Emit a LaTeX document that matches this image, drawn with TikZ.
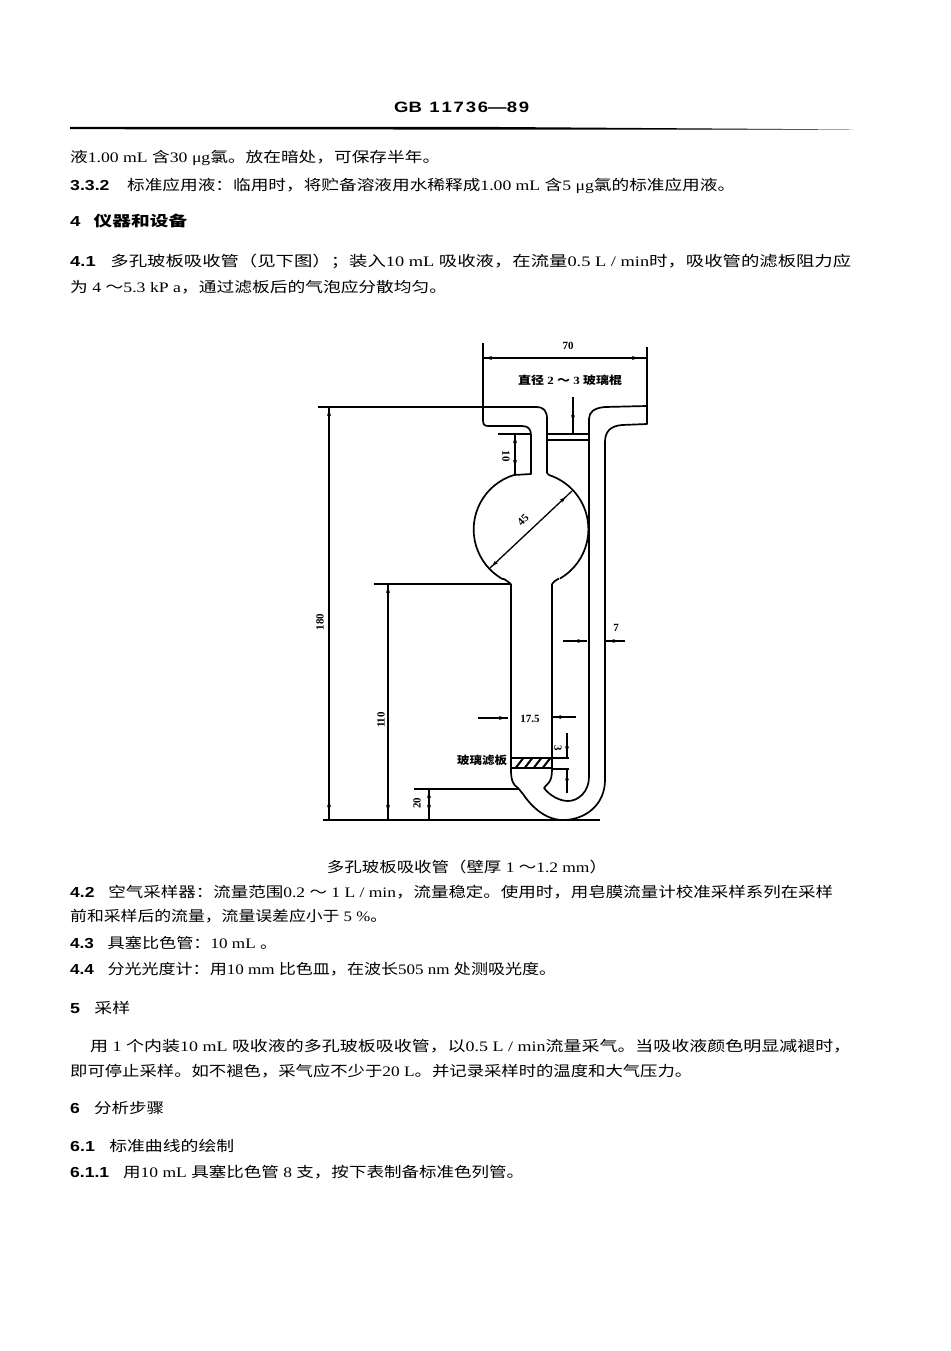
\documentclass[tikz,border=0pt]{standalone}
\usepackage{fontspec}
\usepackage{graphicx}
\usetikzlibrary{arrows.meta,decorations.markings}
\setmainfont{Liberation Serif}
\newfontfamily\cjkf{Noto Sans CJK SC}
\newcommand{\zh}[1]{{\cjkf #1}}
\newcommand{\hb}[1]{{\fontspec{Liberation Sans}\bfseries #1}}
\newcommand{\fit}[2]{\resizebox{#1pt}{\height}{#2}}
\tikzset{
  x=1pt,y=-1pt,
  body/.style={anchor=west,inner sep=0pt,font=\fontsize{14.5}{14.5}\selectfont},
  dimtext/.style={inner sep=0pt,font=\fontsize{11}{11}\selectfont\bfseries},
  glass/.style={line width=1.7pt,line join=round},
  thin line/.style={line width=1.3pt},
  both marks/.style={thin line,postaction={decorate},decoration={markings,
    mark=at position 9pt with {\arrow{Stealth[length=6pt,width=4pt,reversed]}},
    mark=at position -9pt with {\arrow{Stealth[length=6pt,width=4pt]}}}},
  end mark/.style={thin line,postaction={decorate},decoration={markings,
    mark=at position #1 with {\arrow{Stealth[length=6pt,width=4pt]}}}},
}
\begin{document}
\begin{tikzpicture}
\useasboundingbox[fill=white] (0,0) rectangle (950,1351);
% header
\node[body,font=\fontsize{15}{15}\selectfont] (hdr) at (394,107) {\fit{135}{\hb{GB\hspace{0.4em}1\hspace{0.1em}1\hspace{0.1em}7\hspace{0.1em}3\hspace{0.1em}6—8\hspace{0.1em}9}}};
\coordinate (rl) at (70,127); \coordinate (rr) at (853,129.5);
\fill (rl) -- (500,127) -- (rr) -- (500,129.6) -- (70,129.2) -- cycle;
% page text
\node[body] (t1) at (70,158) {\fit{370}{\zh{液}1.00 mL \zh{含}30 μg\zh{氯。放在暗处，可保存半年。}}};
\node[body] (t2) at (70,186) {\fit{665}{\hb{3.3.2}\hspace{1em}\zh{标准应用液：临用时，将贮备溶液用水稀释成}1.00 mL \zh{含}5 μg\zh{氯的标准应用液。}}};
\node[body] (t3) at (70,221) {\fit{117}{\hb{4}\hspace{0.7em}\zh{\bfseries 仪器和设备}}};
\node[body] (t4) at (70,261) {\fit{781}{\hb{4.1}\hspace{0.8em}\zh{多孔玻板吸收管（见下图）；装入}10 mL \zh{吸收液，在流量}0.5 L / min\zh{时，吸收管的滤板阻力应}}};
\node[body] (t5) at (70,287) {\fit{377}{\zh{为} 4 \zh{～}5.3 kP a\zh{，通过滤板后的气泡应分散均匀。}}};
\node[body,anchor=center] (cap) at (467,867) {\fit{280}{\zh{多孔玻板吸收管（壁厚} 1 \zh{～}1.2 mm\zh{）}}};
\node[body] (t6) at (70,892) {\fit{763}{\hb{4.2}\hspace{0.8em}\zh{空气采样器：流量范围}0.2 \zh{～} 1 L / min\zh{，流量稳定。使用时，用皂膜流量计校准采样系列在采样}}};
\node[body] (t7) at (70,916) {\fit{317}{\zh{前和采样后的流量，流量误差应小于} 5 \%\zh{。}}};
\node[body] (t8) at (70,943) {\fit{207}{\hb{4.3}\hspace{0.8em}\zh{具塞比色管：}10 mL \zh{。}}};
\node[body] (t9) at (70,969) {\fit{486}{\hb{4.4}\hspace{0.8em}\zh{分光光度计：用}10 mm \zh{比色皿，在波长}505 nm \zh{处测吸光度。}}};
\node[body] (t10) at (70,1008) {\fit{60}{\hb{5}\hspace{0.8em}\zh{采样}}};
\node[body] (t11) at (90,1046) {\fit{761}{\zh{用} 1 \zh{个内装}10 mL \zh{吸收液的多孔玻板吸收管，以}0.5 L / min\zh{流量采气。当吸收液颜色明显减褪时，}}};
\node[body] (t12) at (70,1071) {\fit{622}{\zh{即可停止采样。如不褪色，采气应不少于}20 L\zh{。并记录采样时的温度和大气压力。}}};
\node[body] (t13) at (70,1108) {\fit{94}{\hb{6}\hspace{0.8em}\zh{分析步骤}}};
\node[body] (t14) at (70,1146) {\fit{164}{\hb{6.1}\hspace{0.8em}\zh{标准曲线的绘制}}};
\node[body] (t15) at (70,1172) {\fit{454}{\hb{6.1.1}\hspace{0.8em}\zh{用}10 mL \zh{具塞比色管} 8 \zh{支，按下表制备标准色列管。}}};
% glass: funnel left, neck, side wall
\draw[glass] (483,343) -- (483,420) .. controls (483,424) and (484,426) .. (488,426) -- (522,426) .. controls (528,426) and (531,429) .. (531,435) -- (531,474) -- (514,475);
\draw[glass] (318,407) -- (536,407) .. controls (544,407) and (547,411) .. (547,419) -- (547,473) -- (549,475);
% bulb
\draw[glass] (549,475) arc[start angle=-72,end angle=0,radius=57] arc[start angle=0,end angle=60,radius=57];
\draw[glass] (514,475) arc[start angle=253,end angle=120,radius=57] .. controls (504,578) and (508,582) .. (511,584);
\draw[glass] (559,578.5) .. controls (556,580) and (553,582) .. (552,584);
% funnel right
\draw[glass] (647,347) -- (647,424) -- (622,425) .. controls (610,426) and (605,432) .. (605,442) -- (605,780) .. controls (605,805) and (585,820) .. (563,820) .. controls (545,820) and (531,806) .. (523,794) -- (518,788) .. controls (513,785) and (511,780) .. (511,770) -- (511,584);
\draw[glass] (647,406) -- (605,407) .. controls (594,408) and (589,412) .. (589,419) -- (589,777) .. controls (589,792) and (578,801) .. (568,801) .. controls (560,801) and (550,796) .. (544,788) .. controls (546,784) and (552,784) .. (552,770) -- (552,584);
% rod
\draw[thin line] (548,434) -- (589,434);
\draw[thin line] (548,440) -- (589,440);
% filter
\draw[glass] (511,758) rectangle (552,768);
\foreach \hx in {519,528,537,546} \draw[line width=2pt] (\hx-3,767.5) -- (\hx+4,758.5);
% dimensions
\coordinate (d70a) at (483,358); \coordinate (d70b) at (647,358);
\draw[both marks] (d70a) -- (d70b);
\node[dimtext] (n70) at (568,346) {70};
\coordinate (dra) at (573,397); \coordinate (drb) at (573,434);
\draw[end mark=0.65] (dra) -- (drb);
\node[dimtext] (nrod) at (570,380) {\fit{104}{\zh{\bfseries 直径} \textbf{2} \zh{\bfseries ～} \textbf{3} \zh{\bfseries 玻璃棍}}};
\draw[thin line] (498,434) -- (531,434);
\coordinate (d10a) at (515,434); \coordinate (d10b) at (515,475);
\draw[both marks] (d10a) -- (d10b);
\node[dimtext,rotate=-90] (n10) at (506,456) {10};
\coordinate (d45a) at (490,568); \coordinate (d45b) at (572,491);
\draw[both marks] (d45a) -- (d45b);
\node[dimtext,rotate=45] (n45) at (523,520) {45};
\coordinate (d180a) at (329,407); \coordinate (d180b) at (329,820);
\draw[both marks] (d180a) -- (d180b);
\node[dimtext,rotate=90] (n180) at (320,622) {180};
\draw[thin line] (374,584) -- (510,584);
\coordinate (d110a) at (388,584); \coordinate (d110b) at (388,820);
\draw[both marks] (d110a) -- (d110b);
\node[dimtext,rotate=90] (n110) at (381,720) {110};
\draw[thin line] (414,789) -- (518,789);
\coordinate (d20a) at (429,789); \coordinate (d20b) at (429,820);
\draw[both marks] (d20a) -- (d20b);
\node[dimtext,rotate=90] (n20) at (417,803) {20};
\draw[thin line] (323,820) -- (600,820);
% 17.5
\coordinate (s1) at (478,718); \coordinate (s2) at (508,718);
\draw[end mark=0.9] (s1) -- (s2);
\coordinate (s3) at (576,717); \coordinate (s4) at (553,717);
\draw[end mark=0.9] (s3) -- (s4);
\node[dimtext] (n175) at (530,719) {17.5};
% 7
\coordinate (w1) at (563,641); \coordinate (w2) at (587,641);
\draw[end mark=0.85] (w1) -- (w2);
\coordinate (w3) at (625,641); \coordinate (w4) at (606,641);
\draw[end mark=0.85] (w3) -- (w4);
\node[dimtext] (n7) at (616,628) {7};
% 3
\draw[thin line] (552,758) -- (569,758);
\draw[thin line] (552,769) -- (569,769);
\coordinate (h1) at (567,733); \coordinate (h2) at (567,757);
\draw[end mark=0.8] (h1) -- (h2);
\coordinate (h3) at (567,793); \coordinate (h4) at (567,770);
\draw[end mark=0.8] (h3) -- (h4);
\node[dimtext,rotate=-90] (n3) at (558,748) {3};
\node[dimtext] (nfilt) at (482,760) {\fit{50}{\zh{\bfseries 玻璃滤板}}};
\end{tikzpicture}
\end{document}
